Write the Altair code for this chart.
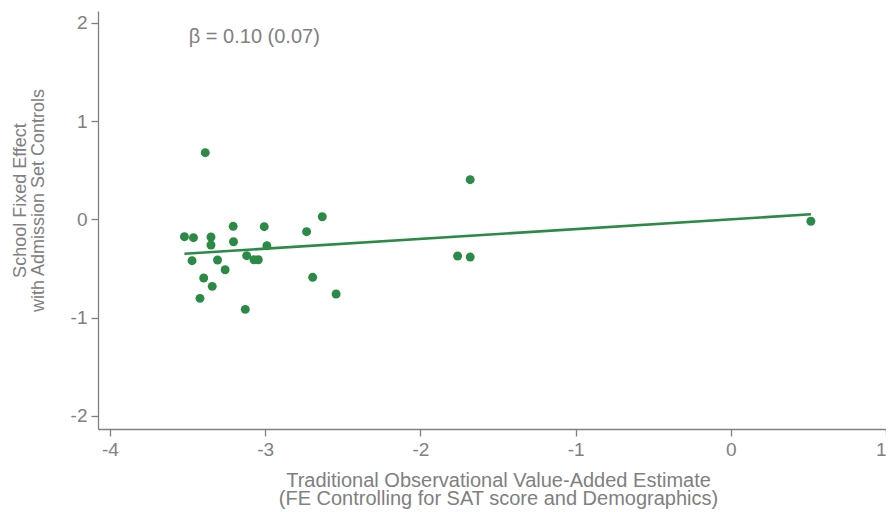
import altair as alt
import pandas as pd

# ---- data ----
vam_x = [-3.386, -3.520, -3.462, -3.349, -3.349, -3.206, -3.204, -3.006, -2.989,
         -2.733, -2.632, -3.471, -3.307, -3.258, -3.396, -3.341, -3.420, -3.128,
         -3.119, -3.072, -3.044, -2.694, -2.543, -1.679, -1.760, -1.679, 0.516]
fe_y = [0.678, -0.177, -0.187, -0.180, -0.261, -0.071, -0.228, -0.075, -0.269,
        -0.126, 0.026, -0.421, -0.414, -0.513, -0.597, -0.682, -0.804, -0.916,
        -0.370, -0.411, -0.411, -0.590, -0.760, 0.403, -0.373, -0.384, -0.020]
fit_x = [-3.520, 0.516]
fit_y = [-0.350, 0.051]
x_ticks = [-4, -3, -2, -1, 0, 1]
y_ticks = [-2, -1, 0, 1, 2]
note_text = ["β = 0.10 (0.07)"]
note_x = [-3.492]
note_y = [1.858]

GREEN = "#2b8a46"
GREY = "#808080"
FONT = "Liberation Sans"

pts = pd.DataFrame({"x": vam_x, "y": fe_y})
fit = pd.DataFrame({"x": fit_x, "y": fit_y})
note = pd.DataFrame({"x": note_x, "y": note_y, "t": note_text})

xscale = alt.Scale(domain=[-4.077, 1.0], nice=False, zero=False)
yscale = alt.Scale(domain=[-2.133, 2.119], nice=False, zero=False)

common_axis = dict(
    grid=False, domainColor=GREY, domainWidth=1.3, tickColor=GREY, tickWidth=1.3,
    tickSize=7, labelColor=GREY, labelFontSize=19, labelFont=FONT,
    titleColor=GREY, titleFont=FONT, titleFontWeight="normal",
    labelExpr="'' + datum.value",
)

xenc = alt.X("x:Q", scale=xscale, axis=alt.Axis(
    values=x_ticks,
    title=["Traditional Observational Value-Added Estimate",
           "(FE Controlling for SAT score and Demographics)"],
    labelPadding=4, titleFontSize=20, titleLineHeight=18,
    titleX=400, titleY=57, titleAlign="center",
    titleBaseline="alphabetic", **common_axis))
yenc = alt.Y("y:Q", scale=yscale, axis=alt.Axis(
    values=y_ticks,
    title=["School Fixed Effect", "with Admission Set Controls"],
    labelPadding=4, titleFontSize=18, titleLineHeight=18,
    titleX=-72.7, titleY=189, titleAngle=270, titleAlign="center",
    titleBaseline="alphabetic", **common_axis))

points = alt.Chart(pts).mark_circle(size=80, color=GREEN, opacity=1).encode(x=xenc, y=yenc)
line = alt.Chart(fit).mark_line(color=GREEN, strokeWidth=2.6).encode(x=xenc, y=yenc)
text = alt.Chart(note).mark_text(align="left", baseline="middle", fontSize=20,
                                 color=GREY, font=FONT).encode(x=xenc, y=yenc, text="t:N")

chart = alt.layer(points, line, text).properties(
    width=788, height=418,
    autosize=alt.AutoSizeParams(type="none"),
    padding={"left": 90, "top": 3, "right": 0, "bottom": 81},
).configure_view(stroke=None)

chart.save("out.html", embed_options={"renderer": "svg", "actions": False})
